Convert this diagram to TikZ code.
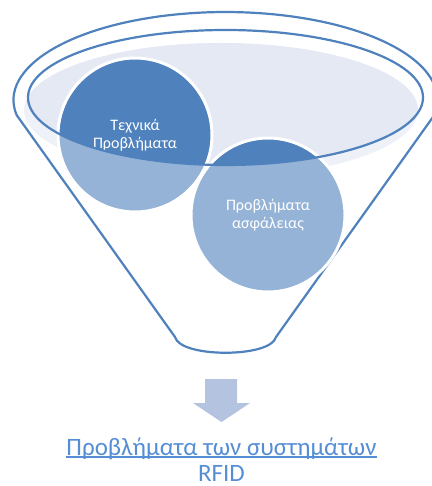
\documentclass[tikz,border=0pt]{standalone}
\usepackage{fontspec}
\setmainfont{Carlito}
\definecolor{deepblue}{HTML}{4F81BD}
\definecolor{softblue}{HTML}{95B3D7}
\definecolor{mistdark}{RGB}{228,233,243}
\definecolor{mistlight}{RGB}{238,241,248}
\definecolor{arrowblue}{RGB}{180,196,224}
\definecolor{linkblue}{HTML}{558ED5}
\begin{document}
\begin{tikzpicture}[
            x=1pt, y=-1pt,
            rimline/.style = {draw=deepblue, line width=2.2pt},
            bubble/.style = {shape=circle, minimum size=154pt, inner sep=0pt, fill=softblue, draw=white, line width=3pt,
              text=white, align=center, font=\fontsize{16}{18.5}\selectfont,
              path picture={\clip (rim) ellipse [x radius=197.5, y radius=67.5];
                \fill[deepblue] (path picture bounding box.south west) rectangle (path picture bounding box.north east);}},
            caption/.style = {text=linkblue, inner sep=0pt, anchor=base, font=\fontsize{25}{27}\selectfont}
          ]
          \useasboundingbox (0,0) rectangle (431,486);
          \coordinate (rim) at (225.5,97.5);
          % liquid inside the funnel
          \fill[mistlight] (221,110) ellipse [x radius=197, y radius=67];
          \begin{scope}
            \clip (rim) ellipse [x radius=197.5, y radius=67.5];
            \fill[mistdark] (221,110) ellipse [x radius=197, y radius=67];
          \end{scope}
          % funnel body
          \draw[rimline] (16.6,115) arc [start angle=170.2, end angle=369.8, x radius=212, y radius=88]
            -- (276,337) .. controls (271,358) and (180,358) .. (175,337) -- cycle;
          \node[bubble] (security) at (268,215) {Προβλήματα\\ασφάλειας};
          \node[bubble] (technical) at (135,135) {Τεχνικά\\Προβλήματα};
          \draw[rimline] (rim) ellipse [x radius=197.5, y radius=67.5];
          % output arrow
          \fill[arrowblue] (205,379) -- (237,379) -- (237,403) -- (250,403) -- (221.5,422)
            -- (193,403) -- (205,403) -- cycle;
          \node[caption] (result) at (221.5,455) {Προβλήματα των συστημάτων};
          \node[caption] (rfid) at (221.5,481) {RFID};
          \draw[linkblue, line width=1.3pt] ([yshift=-2pt]result.base west) -- ([yshift=-2pt]result.base east);
        \end{tikzpicture}
\end{document}
